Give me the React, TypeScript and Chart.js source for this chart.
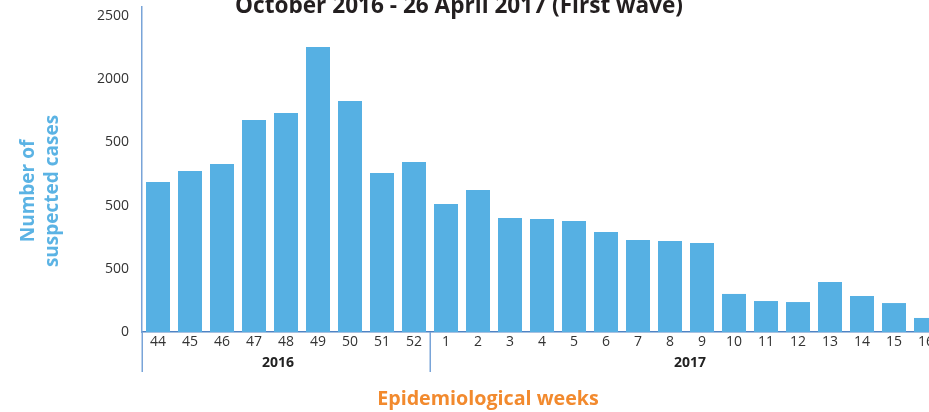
import React, { useEffect, useRef } from 'react';
import { Chart, registerables } from 'chart.js';

Chart.register(...registerables);

const weeks = ['44', '45', '46', '47', '48', '49', '50', '51', '52', '1', '2', '3', '4', '5', '6', '7', '8', '9', '10', '11', '12', '13', '14', '15', '16'];
const cases = [1187, 1274, 1329, 1677, 1733, 2255, 1828, 1258, 1345, 1013, 1123, 902, 894, 878, 791, 728, 720, 704, 301, 245, 237, 396, 285, 229, 111];
const yTickValues = [0, 500, 1000, 1500, 2000, 2500];
const yTickLabels = ['0', '500', '500', '500', '2000', '2500'];
const yearLabels = ['2016', '2017'];
const yearCounts = [9, 16];
const titleText = 'October 2016 - 26 April 2017 (First wave)';
const yTitleLines = ['Number of', 'suspected cases'];
const xTitleText = 'Epidemiological weeks';

const FONT = '"Open Sans", Lato, sans-serif';
const AXIS_BLUE = '#79a4d8';
const YEAR_OFFSETS = [-8, 4];

const decorations = {
  id: 'decorations',
  afterDraw(chart: any) {
    const { ctx, chartArea, scales } = chart;
    const x = scales.x;
    const half = (x.getPixelForValue(1) - x.getPixelForValue(0)) / 2;
    ctx.save();
    let start = 0;
    const edges: number[] = [];
    yearCounts.forEach((c, gi) => {
      const left = x.getPixelForValue(start) - half;
      const right = x.getPixelForValue(start + c - 1) + half;
      edges.push(left);
      ctx.fillStyle = '#222';
      ctx.font = `bold 14px ${FONT}`;
      ctx.textAlign = 'center';
      ctx.textBaseline = 'middle';
      ctx.fillText(yearLabels[gi], (left + right) / 2 + YEAR_OFFSETS[gi], chartArea.bottom + 31);
      start += c;
    });
    ctx.strokeStyle = AXIS_BLUE;
    ctx.lineWidth = 1.5;
    edges.forEach((ex) => {
      ctx.beginPath();
      ctx.moveTo(Math.round(ex) + 0.25, chartArea.bottom);
      ctx.lineTo(Math.round(ex) + 0.25, chartArea.bottom + 40);
      ctx.stroke();
    });
    // x title
    ctx.fillStyle = '#f28a2e';
    ctx.font = `bold 19.7px ${FONT}`;
    ctx.textAlign = 'center';
    ctx.textBaseline = 'middle';
    ctx.fillText(xTitleText, 488, 399);
    // y title
    ctx.save();
    ctx.translate(0, 191);
    ctx.rotate(-Math.PI / 2);
    ctx.fillStyle = '#5bb3e4';
    ctx.font = `bold 19px ${FONT}`;
    ctx.textAlign = 'center';
    ctx.textBaseline = 'alphabetic';
    ctx.fillText(yTitleLines[0], 0, 34);
    ctx.fillText(yTitleLines[1], 0, 58);
    ctx.restore();
    // top title (cropped)
    ctx.fillStyle = '#231f20';
    ctx.font = `bold 22.6px ${FONT}`;
    ctx.textAlign = 'center';
    ctx.textBaseline = 'alphabetic';
    ctx.fillText(titleText, 459, 13);
    ctx.restore();
  },
};

export default function App() {
  const ref = useRef<HTMLCanvasElement>(null);
  useEffect(() => {
    if (!ref.current) return;
    const chart = new Chart(ref.current, {
      type: 'bar',
      data: {
        labels: weeks,
        datasets: [
          {
            data: cases,
            backgroundColor: '#56b0e3',
            barPercentage: 0.75,
            categoryPercentage: 1.0,
          },
        ],
      },
      options: {
        responsive: false,
        animation: false,
        layout: { padding: { left: 0, right: 8, top: 7, bottom: 0 } },
        plugins: { legend: { display: false }, tooltip: { enabled: false }, title: { display: false } },
        scales: {
          x: {
            type: 'category',
            offset: true,
            grid: { display: false, drawTicks: false },
            border: { display: true, color: '#4f83c4', width: 1.5 },
            ticks: {
              color: '#333',
              font: { family: FONT, size: 14 },
              padding: 2,
              maxRotation: 0,
              autoSkip: false,
            },
            afterFit(scale: any) {
              scale.height = 80;
              scale.paddingLeft = 0;
              scale.paddingRight = 0;
            },
          },
          y: {
            min: 0,
            max: 2571,
            grid: { display: false, drawTicks: false },
            border: { display: true, color: AXIS_BLUE, width: 1.5 },
            ticks: {
              color: '#333',
              font: { family: FONT, size: 14 },
              padding: 13,
              includeBounds: false,
              callback: (v: any) => {
                const i = yTickValues.indexOf(Number(v));
                return i >= 0 ? yTickLabels[i] : '';
              },
            },
            afterBuildTicks(scale: any) {
              scale.ticks = yTickValues.map((v) => ({ value: v }));
            },
            afterFit(scale: any) {
              scale.width = 142;
              scale.paddingTop = 0;
              scale.paddingBottom = 0;
            },
          },
        },
      },
      plugins: [decorations],
    });
    return () => chart.destroy();
  }, []);
  return (
    <div style={{ position: 'absolute', left: 0, top: 0, width: 929, height: 412, overflow: 'hidden', background: '#fff' }}>
      <canvas ref={ref} width={950} height={412} style={{ display: 'block' }} />
    </div>
  );
}
